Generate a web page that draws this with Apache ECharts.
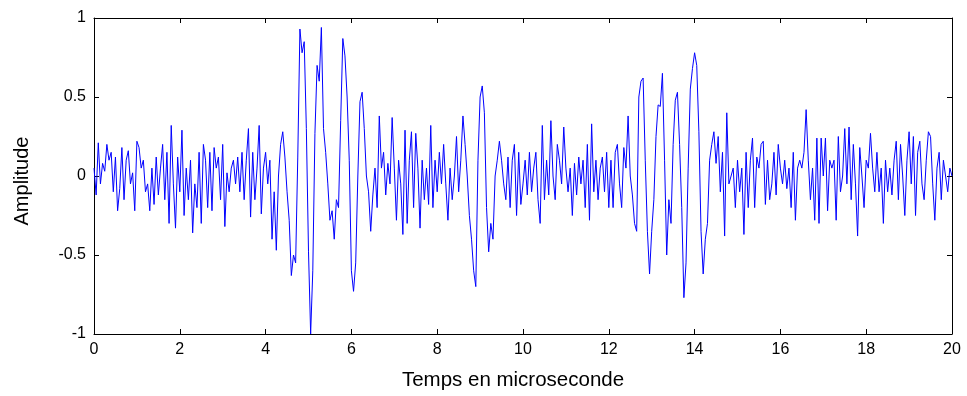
<!DOCTYPE html>
<html>
<head>
<meta charset="utf-8">
<script src="https://cdn.jsdelivr.net/npm/echarts@6/dist/echarts.min.js"></script>
<style>html,body{margin:0;padding:0;background:#fff}#c{width:967px;height:396px}</style>
</head>
<body>
<div id="c"></div>
<script>
// time step between samples, in microseconds
var timeStep = 0.05;
// amplitude samples, one row per microsecond (t = 0.00 .. 0.95, 1.00 .. 1.95, ...)
var amplitude = [
  0.05,-0.12,0.21,-0.05,0.08,0.03,0.2,0.1,0.15,-0.1,0.12,-0.22,-0.08,0.18,-0.15,0.1,0.16,-0.05,0.02,-0.22,
  0.22,0.18,0.05,0.1,-0.1,-0.05,-0.22,0.05,-0.18,0.12,-0.12,0.05,0.2,-0.15,0.15,-0.3,0.32,-0.05,-0.33,0.12,
  -0.1,0.29,-0.25,0.05,-0.15,0.1,-0.36,-0.05,-0.2,0.15,-0.3,0.2,0.1,-0.2,0.15,-0.22,0.18,0.05,0.12,-0.15,
  0.2,-0.32,0.02,-0.1,0.05,0.1,-0.05,0.12,-0.1,0.15,-0.15,0.1,0.3,-0.26,0.15,-0.15,0.05,0.32,-0.24,0.05,
  0.15,-0.05,0.1,-0.4,-0.1,-0.47,0.0,0.2,0.28,0.12,-0.1,-0.28,-0.63,-0.5,-0.55,0.12,0.93,0.78,0.85,0.3,
  -0.48,-1.0,-0.6,0.27,0.7,0.6,0.94,0.3,0.15,-0.05,-0.28,-0.22,-0.4,-0.15,-0.2,0.35,0.87,0.76,0.5,0.1,
  -0.6,-0.73,-0.55,0.0,0.47,0.53,0.3,0.0,-0.1,-0.35,-0.12,0.05,-0.2,0.38,0.05,0.15,-0.12,0.08,-0.05,0.37,
  0.05,-0.28,0.1,-0.05,-0.37,0.29,-0.3,0.1,0.28,-0.2,0.27,0.05,-0.33,0.1,-0.15,0.05,-0.18,0.32,-0.2,0.1,
  -0.1,0.15,-0.05,0.2,-0.05,-0.28,0.05,-0.15,0.0,0.25,-0.1,0.1,0.38,0.2,0.0,-0.25,-0.4,-0.6,-0.7,0.1,
  0.5,0.57,0.4,-0.2,-0.48,-0.3,-0.4,0.0,0.1,0.22,0.1,-0.05,-0.15,0.12,-0.2,0.1,0.2,-0.25,0.15,-0.18,
  -0.05,0.1,-0.12,0.15,-0.1,0.05,0.15,-0.15,-0.3,0.32,-0.15,0.1,-0.12,0.35,0.0,-0.15,0.2,0.1,-0.05,0.31,
  0.05,-0.1,0.05,-0.25,0.08,-0.12,0.12,-0.05,0.1,-0.2,0.2,-0.28,0.33,-0.1,0.1,-0.15,0.05,0.12,-0.1,0.15,
  -0.2,0.1,-0.2,0.15,0.2,-0.05,-0.2,0.18,0.05,0.38,0.0,-0.12,-0.3,-0.35,0.5,0.6,0.62,0.1,-0.35,-0.62,
  -0.35,-0.15,0.25,0.45,0.44,0.65,0.1,-0.5,-0.15,-0.3,0.2,0.48,0.53,0.2,-0.2,-0.77,-0.55,0.05,0.55,0.68,
  0.78,0.7,0.28,-0.35,-0.62,-0.4,-0.3,0.1,0.2,0.28,0.08,0.25,-0.1,0.15,-0.38,0.4,-0.05,0.0,0.05,-0.2,
  0.1,-0.1,0.05,-0.37,0.15,-0.2,0.1,0.24,-0.2,0.12,0.05,0.2,0.22,-0.18,0.1,-0.15,-0.05,0.15,-0.12,0.2,
  0.05,-0.05,0.1,-0.08,0.05,-0.2,0.15,-0.28,0.05,0.1,0.05,0.15,0.42,0.1,-0.15,0.05,-0.28,0.24,-0.3,0.24,
  0.0,0.24,-0.22,0.1,0.05,0.1,-0.28,0.25,-0.1,0.0,0.3,-0.05,0.31,-0.15,0.2,-0.05,-0.38,0.18,0.0,-0.2,
  0.1,0.05,0.27,0.05,-0.1,0.15,-0.1,0.05,-0.3,0.1,-0.1,0.05,-0.12,0.1,0.22,-0.15,0.2,0.0,-0.25,0.1,
  0.28,-0.05,0.25,-0.25,0.15,0.22,-0.05,-0.15,0.1,0.28,0.25,-0.05,-0.28,0.05,0.15,-0.15,0.1,0.0,-0.1,0.05,
  0.0
];
var xTicks = [0, 2, 4, 6, 8, 10, 12, 14, 16, 18, 20];
var yTicks = [-1, -0.5, 0, 0.5, 1];
var xLabel = 'Temps en microseconde';
var yLabel = 'Amplitude';

var points = amplitude.map(function (v, i) { return [+(i * timeStep).toFixed(4), v]; });

var font = 'Liberation Sans, Arial, sans-serif';
var lineStyle = { color: '#000', width: 1 };
function axisCommon(show) {
  return {
    axisLine: { show: true, onZero: false, lineStyle: lineStyle },
    axisTick: { show: true, inside: true, length: 5, lineStyle: lineStyle },
    splitLine: { show: false },
    axisLabel: { show: show, color: '#000', fontFamily: font, fontSize: 16 }
  };
}
var xMain = Object.assign(axisCommon(true), {
  type: 'value', min: xTicks[0], max: xTicks[xTicks.length - 1], interval: xTicks[1] - xTicks[0],
  position: 'bottom', name: xLabel, nameLocation: 'middle', nameGap: 36,
  nameTextStyle: { color: '#000', fontFamily: font, fontSize: 20.5, padding: [0, 20, 0, 0] }
});
xMain.axisLabel.margin = 8;
var xTop = Object.assign(axisCommon(false), {
  type: 'value', min: xTicks[0], max: xTicks[xTicks.length - 1], interval: xTicks[1] - xTicks[0], position: 'top'
});
var yMain = Object.assign(axisCommon(true), {
  type: 'value', min: yTicks[0], max: yTicks[yTicks.length - 1], interval: yTicks[1] - yTicks[0],
  position: 'left', name: yLabel, nameLocation: 'middle', nameGap: 62,
  nameTextStyle: { color: '#000', fontFamily: font, fontSize: 20, padding: [0, 10, 0, 0] }
});
yMain.axisLabel.margin = 8;
var yRight = Object.assign(axisCommon(false), {
  type: 'value', min: yTicks[0], max: yTicks[yTicks.length - 1], interval: yTicks[1] - yTicks[0], position: 'right'
});

var chart = echarts.init(document.getElementById('c'), null, { renderer: 'canvas' });
chart.setOption({
  animation: false,
  backgroundColor: '#fff',
  grid: { left: 94, right: 15, top: 18, bottom: 61, containLabel: false },
  xAxis: [xMain, xTop],
  yAxis: [yMain, yRight],
  series: [{
    type: 'line', xAxisIndex: 0, yAxisIndex: 0, data: points,
    showSymbol: false, symbol: 'none',
    lineStyle: { color: '#0000ff', width: 1 }
  }]
});
</script>
</body>
</html>
